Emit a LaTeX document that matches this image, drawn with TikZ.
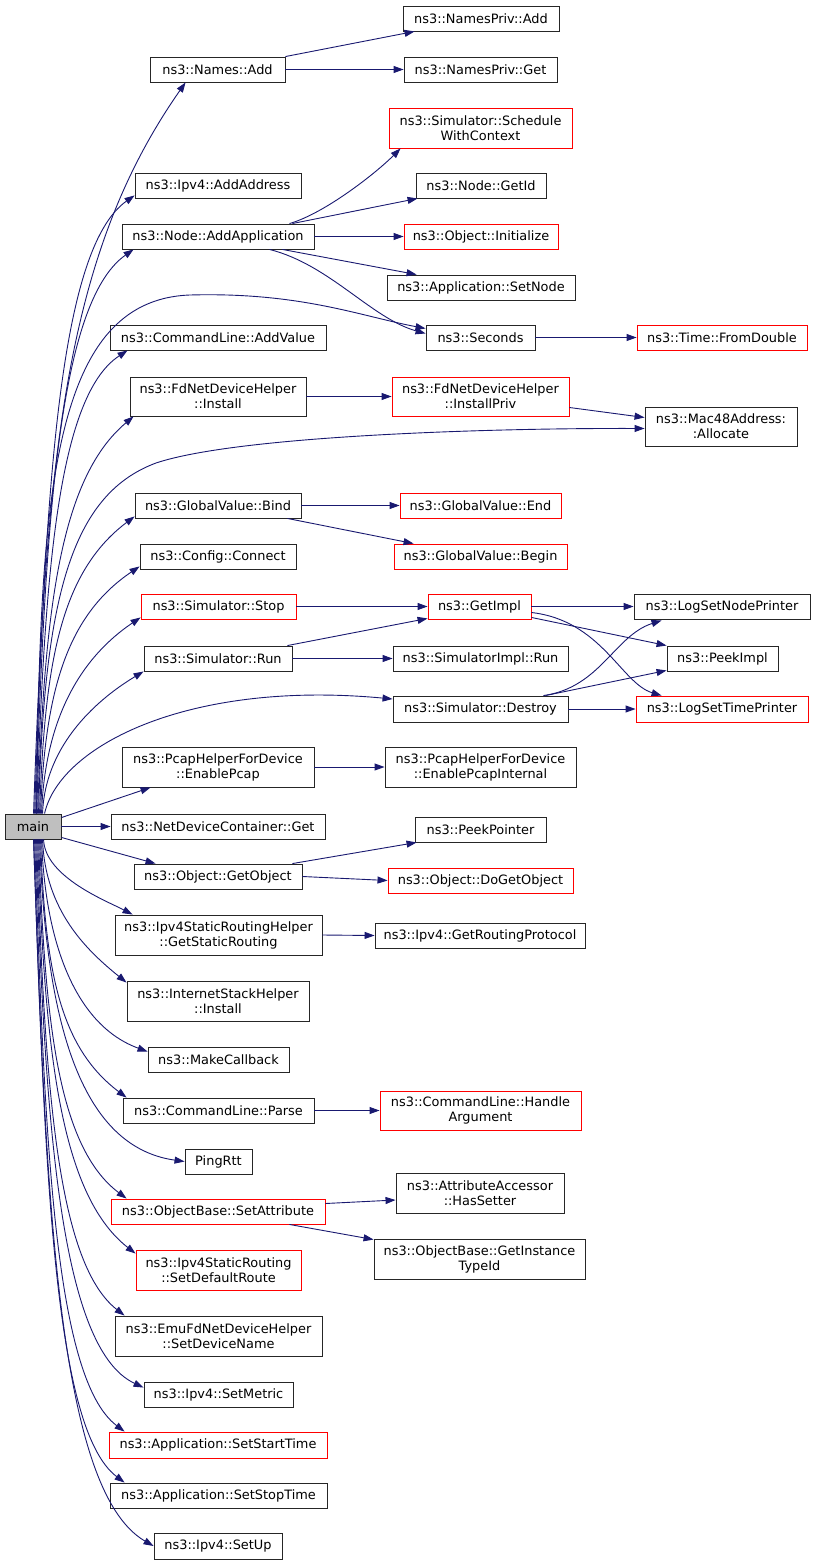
\documentclass[tikz,border=0pt]{standalone}
\usepackage{fontspec}
\setmainfont{DejaVu Sans}
\usetikzlibrary{arrows.meta}
\definecolor{edgeblue}{HTML}{191970}
\definecolor{nred}{HTML}{FF0000}
\definecolor{mainfill}{HTML}{BFBFBF}
\newcommand\nodefont{\fontsize{12.9}{15}\selectfont}
\tikzset{
  box/.style={draw=black!85, line width=0.9pt, inner sep=0pt, align=center, font=\nodefont},
  redbox/.style={box, draw=nred},
  e/.style={draw=edgeblue, line width=0.9pt, -{Triangle[length=10pt,width=7pt]}},
}
% #1 style, #2 name, #3 x1, #4 y1, #5 x2, #6 y2, #7 text (pixel coordinates, y downward)
\newcommand\nd[7]{\node[#1, minimum width={#5-#3}, minimum height={#6-#4}] (#2) at ({(#3+#5)/2},{-(#4+#6)/2}) {#7};}
% main fan edge: start, start angle, L1, end, end angle, L2
\newcommand\medge[6]{\draw[e] (#1) .. controls +(#2:#3) and +(#5:#6) .. (#4);}
\begin{document}
\begin{tikzpicture}[x=1pt,y=1pt]
\useasboundingbox (0,0) rectangle (813,-1565);
% ---- nodes
\nd{box,fill=mainfill}{main}{5}{814}{61}{839}{main}
\nd{box}{namesadd}{150}{57}{285}{82}{ns3::Names::Add}
\nd{box}{addaddr}{135}{173}{301}{198}{ns3::Ipv4::AddAddress}
\nd{box}{addapp}{122}{224}{314}{249}{ns3::Node::AddApplication}
\nd{box}{addvalue}{110}{325}{326}{350}{ns3::CommandLine::AddValue}
\nd{box}{fdinstall}{130}{377}{306}{416}{ns3::FdNetDeviceHelper\\::Install}
\nd{box}{bind}{135}{493}{301}{518}{ns3::GlobalValue::Bind}
\nd{box}{connect}{140}{544}{296}{569}{ns3::Config::Connect}
\nd{redbox}{stop}{141}{594}{296}{619}{ns3::Simulator::Stop}
\nd{box}{run}{144}{646}{292}{671}{ns3::Simulator::Run}
\nd{box}{enablepcap}{122}{747}{314}{787}{ns3::PcapHelperForDevice\\::EnablePcap}
\nd{box}{netdevget}{111}{814}{325}{839}{ns3::NetDeviceContainer::Get}
\nd{box}{getobject}{134}{864}{302}{889}{ns3::Object::GetObject}
\nd{box}{getstatic}{115}{915}{322}{955}{ns3::Ipv4StaticRoutingHelper\\::GetStaticRouting}
\nd{box}{internetstack}{127}{981}{309}{1021}{ns3::InternetStackHelper\\::Install}
\nd{box}{makecallback}{148}{1047}{289}{1072}{ns3::MakeCallback}
\nd{box}{parse}{123}{1098}{314}{1123}{ns3::CommandLine::Parse}
\nd{box}{pingrtt}{185}{1149}{252}{1174}{PingRtt}
\nd{redbox}{setattribute}{111}{1199}{325}{1224}{ns3::ObjectBase::SetAttribute}
\nd{redbox}{setdefaultroute}{136}{1250}{301}{1290}{ns3::Ipv4StaticRouting\\::SetDefaultRoute}
\nd{box}{emufd}{115}{1316}{322}{1356}{ns3::EmuFdNetDeviceHelper\\::SetDeviceName}
\nd{box}{setmetric}{144}{1382}{293}{1407}{ns3::Ipv4::SetMetric}
\nd{redbox}{setstarttime}{109}{1432}{327}{1458}{ns3::Application::SetStartTime}
\nd{box}{setstoptime}{110}{1483}{327}{1508}{ns3::Application::SetStopTime}
\nd{box}{setup}{154}{1533}{282}{1559}{ns3::Ipv4::SetUp}
% column 2
\nd{box}{namespadd}{403}{6}{559}{31}{ns3::NamesPriv::Add}
\nd{box}{namespget}{404}{57}{557}{82}{ns3::NamesPriv::Get}
\nd{redbox}{schedule}{389}{108}{572}{148}{ns3::Simulator::Schedule\\WithContext}
\nd{box}{getid}{416}{173}{546}{198}{ns3::Node::GetId}
\nd{redbox}{initialize}{404}{224}{558}{249}{ns3::Object::Initialize}
\nd{box}{setnode}{387}{275}{575}{300}{ns3::Application::SetNode}
\nd{box}{seconds}{426}{325}{535}{350}{ns3::Seconds}
\nd{redbox}{installpriv}{392}{377}{569}{416}{ns3::FdNetDeviceHelper\\::InstallPriv}
\nd{redbox}{gvend}{400}{493}{561}{518}{ns3::GlobalValue::End}
\nd{redbox}{gvbegin}{394}{544}{567}{569}{ns3::GlobalValue::Begin}
\nd{redbox}{getimpl}{428}{594}{531}{619}{ns3::GetImpl}
\nd{box}{simimplrun}{393}{646}{568}{671}{ns3::SimulatorImpl::Run}
\nd{box}{destroy}{393}{696}{568}{722}{ns3::Simulator::Destroy}
\nd{box}{pcapinternal}{385}{747}{576}{787}{ns3::PcapHelperForDevice\\::EnablePcapInternal}
\nd{box}{peekpointer}{415}{817}{546}{842}{ns3::PeekPointer}
\nd{redbox}{dogetobject}{388}{868}{573}{893}{ns3::Object::DoGetObject}
\nd{box}{getrouting}{375}{923}{585}{948}{ns3::Ipv4::GetRoutingProtocol}
\nd{redbox}{handlearg}{380}{1091}{581}{1130}{ns3::CommandLine::Handle\\Argument}
\nd{box}{hassetter}{396}{1173}{564}{1213}{ns3::AttributeAccessor\\::HasSetter}
\nd{box}{gettypeid}{374}{1239}{585}{1279}{ns3::ObjectBase::GetInstance\\TypeId}
% column 3
\nd{redbox}{fromdouble}{637}{325}{807}{350}{ns3::Time::FromDouble}
\nd{box}{mac48}{645}{407}{797}{446}{ns3::Mac48Address:\\:Allocate}
\nd{box}{lognode}{634}{594}{810}{619}{ns3::LogSetNodePrinter}
\nd{box}{peekimpl}{667}{646}{778}{671}{ns3::PeekImpl}
\nd{redbox}{logtime}{636}{696}{808}{722}{ns3::LogSetTimePrinter}
% ---- main edges (upwards)
\medge{[xshift=29pt]main.north west}{88}{365}{[xshift=36pt]namesadd.south west}{235}{208}
\medge{[xshift=30pt]main.north west}{88}{309}{[yshift=3pt]addaddr.south west}{215}{95}
\medge{[xshift=31pt]main.north west}{88}{282}{[xshift=12pt]addapp.south west}{215}{94}
\medge{[xshift=32pt]main.north west}{88}{231}{[xshift=18pt]addvalue.south west}{213}{85}
\medge{[xshift=33pt]main.north west}{88}{199}{[xshift=4pt]fdinstall.south west}{220}{98}
\medge{[xshift=35pt]main.north west}{88}{149}{[yshift=2pt]bind.south west}{217}{94}
\medge{[xshift=36pt]main.north west}{88}{124}{[yshift=3pt]connect.south west}{214}{87}
\medge{[xshift=37pt]main.north west}{88}{99}{[yshift=2pt]stop.south west}{214}{69}
\medge{[xshift=38pt]main.north west}{88}{71}{run.south west}{211}{50}
\draw[e] ([xshift=32pt]main.north west) .. controls (40,-500) and (50,-300) .. (190,-295) .. controls (300,-292) and (360,-316) .. ([yshift=9pt]seconds.west);
\draw[e] ([xshift=34pt]main.north west) .. controls (44,-600) and (70,-495) .. (156,-463) .. controls (240,-435) and (500,-428) .. ([yshift=-2pt]mac48.west);
\draw[e] ([xshift=40pt]main.north west) .. controls (60,-745) and (190,-680) .. ([yshift=10pt]destroy.west);
% ---- main edges (straight)
\draw[e] ([yshift=-4pt]main.north east) -- ([xshift=29pt]enablepcap.south west);
\draw[e] (main.east) -- (netdevget.west);
\draw[e] ([yshift=2pt]main.south east) -- ([xshift=22pt]getobject.north west);
% ---- main edges (downwards)
\medge{[xshift=39pt]main.south west}{-88}{38}{[xshift=18pt]getstatic.north west}{152}{27}
\medge{[xshift=38pt]main.south west}{-88}{72}{[yshift=-2pt]internetstack.north west}{141}{50}
\medge{[xshift=37pt]main.south west}{-88}{107}{[yshift=-5pt]makecallback.north west}{160}{75}
\medge{[xshift=36pt]main.south west}{-88}{129}{[xshift=4pt]parse.north west}{143}{85}
\medge{[xshift=35pt]main.south west}{-88}{162}{pingrtt.west}{172}{113}
\medge{[xshift=34pt]main.south west}{-88}{180}{[xshift=16pt]setattribute.north west}{143}{87}
\medge{[xshift=33pt]main.south west}{-88}{208}{[yshift=-4pt]setdefaultroute.north west}{142}{97}
\medge{[xshift=32pt]main.south west}{-88}{238}{[xshift=10pt]emufd.north west}{142}{88}
\medge{[xshift=31pt]main.south west}{-88}{275}{[yshift=-6pt]setmetric.north west}{155}{94}
\medge{[xshift=30pt]main.south west}{-88}{297}{[xshift=16pt]setstarttime.north west}{143}{89}
\medge{[xshift=29pt]main.south west}{-88}{324}{[xshift=15pt]setstoptime.north west}{143}{90}
\medge{[xshift=29pt]main.south west}{-88}{354}{setup.west}{150}{112}
% ---- other edges
\draw[e] (namesadd.north east) -- ([xshift=12pt]namespadd.south west);
\draw[e] (namesadd.east) -- (namespget.west);
\draw[e] ([xshift=-25pt]addapp.north east) .. controls +(35,10) and +(-25,-25) .. ([xshift=12pt]schedule.south west);
\draw[e] ([xshift=-22pt]addapp.north east) -- ([xshift=2pt]getid.south west);
\draw[e] (addapp.east) -- (initialize.west);
\draw[e] ([xshift=-32pt]addapp.south east) -- ([xshift=30pt]setnode.north west);
\draw[e] ([xshift=-45pt]addapp.south east) .. controls +(60,-15) and +(-54,15) .. ([yshift=4pt]seconds.west);
\draw[e] (seconds.east) -- (fromdouble.west);
\draw[e] (fdinstall.east) -- (installpriv.west);
\draw[e] ([yshift=-11pt]installpriv.east) -- ([yshift=9pt]mac48.west);
\draw[e] (bind.east) -- (gvend.west);
\draw[e] ([xshift=-14pt]bind.south east) -- ([xshift=20pt]gvbegin.north west);
\draw[e] (stop.east) -- (getimpl.west);
\draw[e] ([xshift=-5pt]run.north east) -- ([yshift=1pt]getimpl.south west);
\draw[e] (run.east) -- (simimplrun.west);
\draw[e] (getimpl.east) -- (lognode.west);
\draw[e] ([yshift=2pt]getimpl.south east) -- (peekimpl.north west);
\draw[e] ([yshift=-6pt]getimpl.east) .. controls +(70,-8) and +(-40,12) .. ([xshift=26pt]logtime.north west);
\draw[e] ([xshift=-25pt]destroy.north east) .. controls +(57,8) and +(-47,-15) .. ([xshift=28pt,yshift=-1pt]lognode.south west);
\draw[e] ([xshift=-23pt]destroy.north east) -- ([yshift=1pt]peekimpl.south west);
\draw[e] (destroy.east) -- (logtime.west);
\draw[e] (enablepcap.east) -- (pcapinternal.west);
\draw[e] ([xshift=-10pt]getobject.north east) -- ([xshift=2pt]peekpointer.south west);
\draw[e] (getobject.east) -- (dogetobject.west);
\draw[e] (getstatic.east) -- (getrouting.west);
\draw[e] (parse.east) -- (handlearg.west);
\draw[e] ([yshift=8pt]setattribute.east) -- ([yshift=-7pt]hassetter.west);
\draw[e] ([xshift=-36pt]setattribute.south east) -- ([yshift=-1pt]gettypeid.north west);
\end{tikzpicture}
\end{document}
